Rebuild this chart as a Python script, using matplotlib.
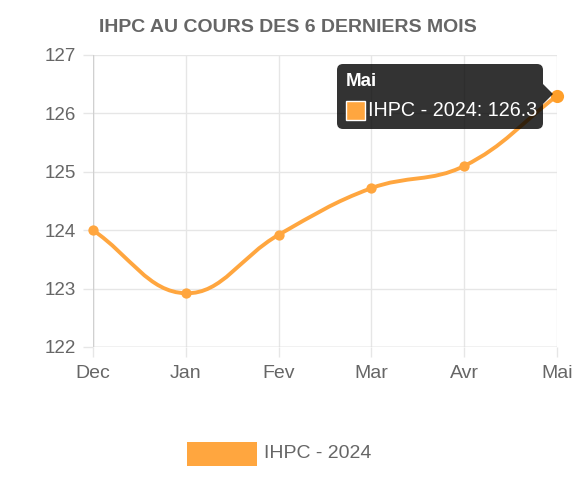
import matplotlib
matplotlib.use("Agg")
import matplotlib.pyplot as plt
import numpy as np
from matplotlib.path import Path
from matplotlib.patches import PathPatch, FancyBboxPatch, Rectangle, Polygon

months = ["Dec", "Jan", "Fev", "Mar", "Avr", "Mai"]
values = [124.0, 122.92, 123.92, 124.72, 125.1, 126.3]
series_name = "IHPC - 2024"
title = "IHPC AU COURS DES 6 DERNIERS MOIS"
y_ticks = [122, 123, 124, 125, 126, 127]

W, H = 577, 480
plt.rcParams['font.family'] = ['Liberation Sans', 'DejaVu Sans']
fig = plt.figure(figsize=(W / 100, H / 100), dpi=100)

L, R, T, B = 93, 557, 55, 347
ax = fig.add_axes([L / W, 1 - B / H, (R - L) / W, (B - T) / H])
ax.set_xlim(0, len(months) - 1)
ax.set_ylim(122, 127)
ax.set_yticks(y_ticks)
ax.set_xticks(range(len(months)))
ax.set_xticklabels(months)
grid_c = "#e6e6e6"
ax.grid(True, color=grid_c, linewidth=1)
for s in ax.spines.values():
    s.set_visible(False)
ax.axvline(0, color="#d0d0d0", lw=1, zorder=1)
ax.axhline(122, color="#d0d0d0", lw=1, zorder=1)
ax.tick_params(axis="both", colors=grid_c, labelcolor="#666666", length=7, width=1)
ax.tick_params(axis="x", pad=6, labelsize=14)
ax.tick_params(axis="y", pad=5, labelsize=13.5)
ax.set_axisbelow(True)

line_c = "#FFA63F"
# Chart.js-style bezier spline (tension 0.4), computed in pixel space
fig.canvas.draw()
xs = np.arange(len(values), dtype=float)
pts = ax.transData.transform(np.column_stack([xs, values]))
t = 0.4
n = len(pts)
cps_prev = [None] * n
cps_next = [None] * n
for i in range(n):
    prev = pts[max(i - 1, 0)]
    cur = pts[i]
    nxt = pts[min(i + 1, n - 1)]
    d01 = np.hypot(*(cur - prev))
    d12 = np.hypot(*(nxt - cur))
    s01 = d01 / (d01 + d12) if (d01 + d12) else 0
    s12 = d12 / (d01 + d12) if (d01 + d12) else 0
    fa, fb = t * s01, t * s12
    cps_prev[i] = cur - fa * (nxt - prev)
    cps_next[i] = cur + fb * (nxt - prev)
verts = [pts[0]]
codes = [Path.MOVETO]
for i in range(n - 1):
    verts += [cps_next[i], cps_prev[i + 1], pts[i + 1]]
    codes += [Path.CURVE4] * 3
inv = ax.transData.inverted()
verts_d = inv.transform(np.array(verts))
ax.add_patch(PathPatch(Path(verts_d, codes), fill=False, edgecolor=line_c, lw=2.8, zorder=3,
                       clip_on=False, capstyle="round", joinstyle="round"))
ax.scatter(xs[:-1], values[:-1], s=55, color=line_c, zorder=4, clip_on=False, linewidths=0)
ax.scatter(xs[-1:], values[-1:], s=90, color="#FF9F2A", zorder=4, clip_on=False, linewidths=0)

# overlay for title, tooltip, legend
ov = fig.add_axes([0, 0, 1, 1], facecolor="none")
ov.set_xlim(0, W)
ov.set_ylim(H, 0)
ov.axis("off")
ov.text(288, 27, title, ha="center", va="center", fontsize=14, fontweight="bold", color="#666666")

# tooltip
ov.add_patch(FancyBboxPatch((337, 64), 206, 65, boxstyle="round,pad=0,rounding_size=6",
                            facecolor="black", alpha=0.8, edgecolor="none", zorder=5))
ov.add_patch(Polygon([[543, 84], [553, 94], [543, 104]], closed=True, facecolor="black", alpha=0.8,
                     edgecolor="none", zorder=5))
ov.text(346, 81, months[-1], color="white", fontsize=13.5, fontweight="bold", va="center", ha="left", zorder=6)
ov.add_patch(Rectangle((346, 101), 19, 19, facecolor=line_c, edgecolor="white", lw=1, zorder=6))
ov.text(368, 110, f"{series_name}: {values[-1]}", color="white", fontsize=14.2, va="center", ha="left", zorder=6)

# legend
ov.add_patch(Rectangle((187, 442), 70, 24, facecolor=line_c, edgecolor="none"))
ov.text(264, 453, series_name, color="#666666", fontsize=14, va="center", ha="left")

fig.savefig("out.png", dpi=100)
